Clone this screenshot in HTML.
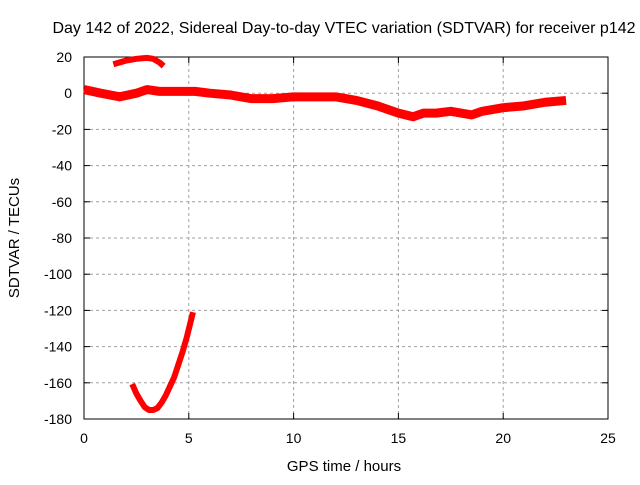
<!DOCTYPE html>
<html><head><meta charset="utf-8"><style>
body{margin:0;background:#fff}
svg text{font-family:"Liberation Sans",sans-serif;font-size:14px;fill:#000}
</style></head><body>
<svg id="c" width="640" height="480"></svg>
<script>
const xTicks=[0,5,10,15,20,25];
const yTicks=[20,0,-20,-40,-60,-80,-100,-120,-140,-160,-180];
const mainHours=[0,0.8,1.7,2.5,3,3.6,4.5,5.3,6,7,8,9,10,11,12,13,14,14.5,15,15.7,16.2,16.8,17.5,18.5,19,20,21,22,23];
const mainVals=[2,0,-2,0,2,1,1,1,0,-1,-3,-3,-2,-2,-2,-4,-7,-9,-11,-13,-11,-11,-10,-12,-10,-8,-7,-5,-4];
const arcHours=[1.4,1.7,2,2.5,3,3.3,3.6,3.8];
const arcVals=[16,17,18,19,19.5,19,17,15];
const lowHours=[2.3,2.5,2.7,2.9,3.1,3.3,3.5,3.7,3.9,4.1,4.3,4.5,4.7,4.9,5.05,5.2];
const lowVals=[-160.7,-166,-170,-173.5,-175,-175,-174,-171,-167,-162,-157,-150,-143,-135,-128,-121];
const X0=84,X1=608,Y0=57,Y1=419;
const sx=v=>X0+(v-0)/25*(X1-X0);
const sy=v=>Y0+(20-v)/200*(Y1-Y0);
const svg=document.getElementById('c');
const NS='http://www.w3.org/2000/svg';
function mk(t,a,p){const e=document.createElementNS(NS,t);for(const k in a)e.setAttribute(k,a[k]);(p||svg).appendChild(e);return e;}
xTicks.forEach(t=>{
 if(t>0&&t<25){const g=mk('line',{x1:sx(t),x2:sx(t),y1:Y0,y2:Y1,stroke:'#a0a0a0','stroke-dasharray':'3,3'});
 
 }
 const l=mk('text',{x:sx(t),y:Y1+24,'text-anchor':'middle'});l.textContent=t;
 
 
 mk('line',{x1:sx(t),x2:sx(t),y1:Y1,y2:Y1-6,stroke:'#000'});
 mk('line',{x1:sx(t),x2:sx(t),y1:Y0,y2:Y0+6,stroke:'#000'});
});
yTicks.forEach(t=>{
 if(t<20&&t>-180){const g=mk('line',{x1:X0,x2:X1,y1:sy(t),y2:sy(t),stroke:'#a0a0a0','stroke-dasharray':'3,3'});
 
 }
 const l=mk('text',{x:X0-12,y:sy(t)+5,'text-anchor':'end'});l.textContent=t;
 
 
 mk('line',{x1:X0,x2:X0+6,y1:sy(t),y2:sy(t),stroke:'#000'});
 mk('line',{x1:X1,x2:X1-6,y1:sy(t),y2:sy(t),stroke:'#000'});
});
const fr=mk('rect',{x:X0,y:Y0,width:X1-X0,height:Y1-Y0,fill:'none',stroke:'#000'});


function series(hs,vs,w,name){
 const p=mk('polyline',{points:hs.map((h,i)=>sx(h)+','+sy(vs[i])).join(' '),fill:'none',stroke:'#ff0000','stroke-width':w,'stroke-linejoin':'round','stroke-linecap':'butt'});
 
 
}
series(mainHours,mainVals,9,'sdtvar-main-series');
series(arcHours,arcVals,6,'sdtvar-upper-arc');
series(lowHours,lowVals,6,'sdtvar-lower-arc');
const t=mk('text',{x:344,y:33,'text-anchor':'middle','font-size':'16'});t.style.fontSize='16px';t.textContent='Day 142 of 2022, Sidereal Day-to-day VTEC variation (SDTVAR) for receiver p142';


const xt=mk('text',{x:344,y:471,'text-anchor':'middle'});xt.style.fontSize='15px';xt.textContent='GPS time / hours';


const yt=mk('text',{x:0,y:0,'text-anchor':'middle',transform:'translate(19,238) rotate(-90)'});yt.style.fontSize='15px';yt.textContent='SDTVAR / TECUs';


</script>
</body></html>
